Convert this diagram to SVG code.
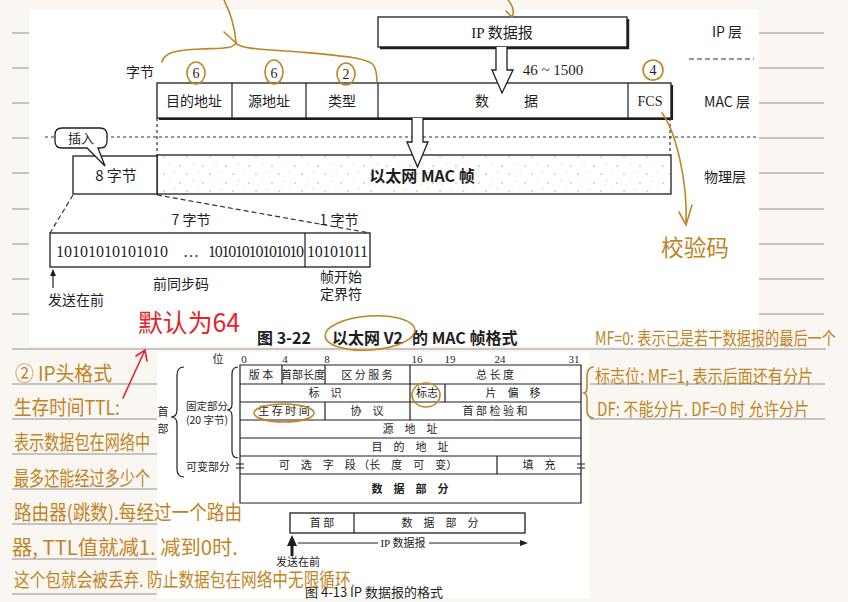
<svg xmlns="http://www.w3.org/2000/svg" width="848" height="602" viewBox="0 0 848 602">
<defs>
<style>
.rule{stroke:#b4b4b4;stroke-width:1.5}
.p{font-family:"Liberation Serif","Noto Sans CJK SC",serif;fill:#1e1e1e}
.ps{font-family:"Noto Sans CJK SC","Liberation Sans",sans-serif;fill:#1e1e1e}
.box{fill:#fff;stroke:#1e1e1e;stroke-width:1.3}
.ln{stroke:#1e1e1e;stroke-width:1.2;fill:none}
.dot{stroke:#333;stroke-width:1.2;stroke-dasharray:3,3;fill:none}
.dash{stroke:#333;stroke-width:1.2;stroke-dasharray:5,3;fill:none}
.hw{font-family:"Noto Sans CJK SC",sans-serif;fill:#c08424}
.ho{stroke:#c08424;stroke-width:1.6;fill:none;stroke-linecap:round}
.red{stroke:#e3242b;stroke-width:1.6;fill:none;stroke-linecap:round}
</style>
<pattern id="speck" width="23" height="17" patternUnits="userSpaceOnUse">
<circle cx="3" cy="4" r="0.7" fill="#999"/><circle cx="14" cy="2" r="0.5" fill="#aaa"/><circle cx="9" cy="11" r="0.6" fill="#bbb"/><circle cx="19" cy="13" r="0.7" fill="#999"/><circle cx="6" cy="15" r="0.4" fill="#aaa"/>
</pattern>
</defs>
<rect width="848" height="602" fill="#faf7f3"/>
<g id="rules">
<path class="rule" d="M12,33H29M12,68H29M12,103H29M12,138H29M12,173H29M12,209H29M12,244H29M12,279H29M12,314H29"/>
<path class="rule" d="M759,33H824M759,68H824M759,103H824M759,138H824M759,173H824M759,209H824M759,244H824M759,279H824M759,314H824"/>
<path class="rule" d="M12,349H826M12,384H157M12,419H157M12,454H157M12,489H157M12,524H157M12,559H157M12,594H157"/>
<path class="rule" d="M590,384H825M590,419H825"/>
</g>
<rect x="29" y="10" width="730" height="336" fill="#fff"/>
<rect x="157" y="352" width="432" height="246" fill="#fff"/>

<g id="ip-layer">
<rect class="box" x="378" y="17" width="249" height="30"/>
<path d="M628,19V48H380" stroke="#1e1e1e" stroke-width="2.4" fill="none"/>
<text class="p" x="502" y="37.5" font-size="15" text-anchor="middle">IP 数据报</text>
</g>
<g id="layer-labels">
<text class="ps" x="727" y="37" font-size="14" text-anchor="middle">IP 层</text>
<path class="dash" d="M689,59H754" stroke-dasharray="6,4"/>
<text class="ps" x="727" y="107" font-size="14" text-anchor="middle">MAC 层</text>
<text class="ps" x="725" y="182" font-size="14" text-anchor="middle">物理层</text>
</g>
<g id="mac-row">
<rect class="box" x="157" y="83" width="514" height="35"/>
<path class="ln" d="M232,83V118M306,83V118M378,83V118M628,83V118"/>
<path d="M672,85V119H159" stroke="#1e1e1e" stroke-width="2.2" fill="none"/>
<text class="ps" x="194" y="106" font-size="14" text-anchor="middle">目的地址</text>
<text class="ps" x="269" y="106" font-size="14" text-anchor="middle">源地址</text>
<text class="ps" x="342" y="106" font-size="14" text-anchor="middle">类型</text>
<text class="ps" x="482" y="106" font-size="14" text-anchor="middle">数</text>
<text class="ps" x="531" y="106" font-size="14" text-anchor="middle">据</text>
<text class="p" x="650" y="106" font-size="14" text-anchor="middle">FCS</text>
<text class="ps" x="140" y="77" font-size="14" text-anchor="middle">字节</text>
<text class="p" x="196" y="78" font-size="14" text-anchor="middle">6</text>
<text class="p" x="274" y="78" font-size="14" text-anchor="middle">6</text>
<text class="p" x="346" y="79" font-size="14" text-anchor="middle">2</text>
<text class="p" x="653" y="75" font-size="14" text-anchor="middle">4</text>
<text class="p" x="553" y="75" font-size="15" text-anchor="middle">46 ~ 1500</text>
</g>
<g id="phys-row">
<path class="dot" d="M45,137H759"/>
<path class="dot" d="M157,118V156M670,118V156"/>
<rect class="box" x="157" y="155" width="514" height="39"/>
<rect x="158" y="156" width="512" height="37" fill="url(#speck)"/>
<rect class="box" x="73" y="156" width="84" height="38"/>
<text class="ps" x="116" y="181" font-size="15" text-anchor="middle">8 字节</text>
<text class="ps" x="422" y="182" font-size="16" font-weight="bold" text-anchor="middle">以太网 MAC 帧</text>
</g>
<g id="callout">
<path d="M62,128H100Q107,128 107,135V141Q107,148 100,148H98L105,166L87,148H62Q55,148 55,141V135Q55,128 62,128Z" fill="#fff" stroke="#1e1e1e" stroke-width="1.3"/>
<text class="ps" x="81" y="143" font-size="13" text-anchor="middle">插入</text>
</g>
<g id="arrows">
<path d="M496,47V70H492L502,93L513,70H507V47" fill="#fff" stroke="#1e1e1e" stroke-width="1.3"/>
<path d="M412,118V142H407L417.5,167L428,142H423V118" fill="#fff" stroke="#1e1e1e" stroke-width="1.3"/>
</g>
<g id="preamble">
<path class="dash" d="M73,195L50,233M157,195L370,233"/>
<text class="ps" x="191" y="225" font-size="14" text-anchor="middle">7 字节</text>
<text class="ps" x="339" y="225" font-size="14" text-anchor="middle">1 字节</text>
<rect class="box" x="50" y="233" width="320" height="34"/>
<path class="ln" d="M305,233V267"/>
<text class="p" x="56" y="257" font-size="16" textLength="112">10101010101010</text>
<text class="p" x="183" y="257" font-size="16">…</text>
<text class="p" x="208" y="257" font-size="16" textLength="96">10101010101010</text>
<text class="p" x="307" y="257" font-size="16" textLength="61">10101011</text>
<path class="ln" d="M53,288V273"/>
<path d="M50,276L53,269L56,276Z" fill="#1e1e1e"/>
<text class="ps" x="76" y="305" font-size="14" text-anchor="middle">发送在前</text>
<text class="ps" x="181" y="289" font-size="14" text-anchor="middle">前同步码</text>
<text class="ps" x="341" y="282" font-size="14" text-anchor="middle">帧开始</text>
<text class="ps" x="341" y="299" font-size="14" text-anchor="middle">定界符</text>
</g>
<g id="caption-3-22" class="ps" font-size="16" font-weight="bold">
<text x="257" y="344">图 3-22</text>
<text x="332" y="344">以太网 V2</text>
<text x="412" y="344">的 MAC 帧格式</text>
</g>

<g id="ip-header">
<text class="ps" x="218" y="363" font-size="11" text-anchor="middle">位</text>
<text class="p" x="244" y="363" font-size="11" text-anchor="middle">0</text>
<text class="p" x="285" y="363" font-size="11" text-anchor="middle">4</text>
<text class="p" x="327" y="363" font-size="11" text-anchor="middle">8</text>
<text class="p" x="417" y="363" font-size="11" text-anchor="middle">16</text>
<text class="p" x="450" y="363" font-size="11" text-anchor="middle">19</text>
<text class="p" x="500" y="363" font-size="11" text-anchor="middle">24</text>
<text class="p" x="574" y="363" font-size="11" text-anchor="middle">31</text>
<path class="ln" d="M240,365H581V503H240ZM240,384H581M240,402H581M240,420H581M240,438H581M240,456H581M240,474H581"/>
<path class="ln" d="M282,365V384M325,365V384M410,365V384M410,384V402M445,384V402M325,402V420M410,402V420M497,456V474"/>
<path class="ln" d="M236,464H244M236,468H244M577,464H585M577,468H585"/>
<g class="ps" font-size="11" text-anchor="middle">
<text x="261" y="379">版 本</text>
<text x="303" y="379">首部长度</text>
<text x="367" y="379">区 分 服 务</text>
<text x="495" y="379">总 长 度</text>
<text x="325" y="397">标　识</text>
<text x="427" y="397">标志</text>
<text x="513" y="397">片　偏　移</text>
<text x="284" y="415">生 存 时 间</text>
<text x="367" y="415">协　议</text>
<text x="495" y="415">首 部 检 验 和</text>
<text x="410" y="433">源　地　址</text>
<text x="410" y="451">目　的　地　址</text>
<text x="368" y="469">可　选　字　段 （长　度　可　变）</text>
<text x="539" y="469">填　充</text>
<text x="410" y="493" font-weight="bold">数　据　部　分</text>
<text x="207" y="410" font-size="10.5">固定部分</text>
<text x="207" y="424" font-size="10.5">(20 字节)</text>
<text x="208" y="471">可变部分</text>
<text x="163" y="416">首</text>
<text x="163" y="433">部</text>
</g>
<path class="ln" d="M238,367Q232,367 232,374V404Q232,410 227,410Q232,410 232,416V451Q232,458 238,458"/>
<path class="ln" d="M184,367Q177,367 177,375V410Q177,417 171,417Q177,417 177,424V469Q177,477 184,477"/>
</g>
<g id="ip-datagram">
<rect class="box" x="290" y="513" width="235" height="20"/>
<path class="ln" d="M354,513V533"/>
<text class="ps" x="322" y="527" font-size="11" text-anchor="middle">首 部</text>
<text class="ps" x="440" y="527" font-size="11" text-anchor="middle">数　据　部　分</text>
<path d="M292,556V544" stroke="#1e1e1e" stroke-width="3"/>
<path d="M287,546L292,535L297,546Z" fill="#1e1e1e"/>
<path class="ln" d="M298,543H378M429,543H524"/>
<path d="M520,540L528,543L520,546Z" fill="#1e1e1e"/>
<text class="p" x="403" y="547" font-size="11" text-anchor="middle">IP 数据报</text>
<text class="ps" x="298" y="566" font-size="11" text-anchor="middle">发送在前</text>
<text class="ps" x="374" y="597" font-size="13" text-anchor="middle">图 4-13   IP 数据报的格式</text>
</g>

<g id="annotations">
<path class="ho" d="M162,62C164,53 175,50 200,49C222,48 233,49 236,43C240,49 262,49 300,52C345,56 370,58 374,66C377,72 377,78 377,82"/>
<path class="ho" d="M224,0C230,12 235,28 236,43M224,32L236,43"/>
<path class="ho" d="M508,0C513,6 515,11 512,17M506,11L512,17"/>
<ellipse class="ho" cx="196" cy="73" rx="9" ry="11"/>
<ellipse class="ho" cx="274" cy="72" rx="9" ry="12"/>
<ellipse class="ho" cx="346" cy="74" rx="9" ry="11"/>
<ellipse class="ho" cx="653" cy="70" rx="10" ry="10"/>
<path class="ho" d="M662,113C675,130 688,180 686,224M679,212L686,225L692,205"/>
<text class="hw" x="661" y="256" font-size="23" textLength="68" lengthAdjust="spacingAndGlyphs">校验码</text>
<ellipse class="ho" cx="370" cy="333" rx="45" ry="17" transform="rotate(-4 370 333)"/>
<ellipse class="ho" cx="284" cy="413" rx="30" ry="9"/>
<ellipse class="ho" cx="426" cy="395" rx="14" ry="12"/>
<text x="138" y="332" font-family="Noto Sans CJK SC,sans-serif" font-size="25" fill="#e3242b" textLength="102" lengthAdjust="spacingAndGlyphs">默认为64</text>
<path class="red" d="M123,398L145,350M136,356L145,350L147,361"/>
<g class="hw" font-size="20">
<text x="15" y="381" textLength="97" lengthAdjust="spacingAndGlyphs">② IP头格式</text>
<text x="14" y="415" textLength="106" lengthAdjust="spacingAndGlyphs">生存时间TTL:</text>
<text x="14" y="450" textLength="136" lengthAdjust="spacingAndGlyphs">表示数据包在网络中</text>
<text x="14" y="486" textLength="136" lengthAdjust="spacingAndGlyphs">最多还能经过多少个</text>
<text x="14" y="520" textLength="228" lengthAdjust="spacingAndGlyphs">路由器(跳数).每经过一个路由</text>
<text x="12" y="555" textLength="226" lengthAdjust="spacingAndGlyphs">器, TTL值就减1. 减到0时.</text>
<text x="14" y="587" font-size="19" textLength="341" lengthAdjust="spacingAndGlyphs">这个包就会被丢弃. 防止数据包在网络中无限循环.</text>
</g>
<g class="hw" font-size="18">
<text x="595" y="345" textLength="241" lengthAdjust="spacingAndGlyphs">MF=0: 表示已是若干数据报的最后一个</text>
<text x="595" y="383" textLength="218" lengthAdjust="spacingAndGlyphs">标志位: MF=1, 表示后面还有分片</text>
<text x="597" y="416" textLength="212" lengthAdjust="spacingAndGlyphs">DF: 不能分片. DF=0 时 允许分片</text>
</g>
<path class="ho" d="M593,367Q587,368 587,376V388Q587,392 584,393Q587,394 587,398V411Q587,417 593,418"/>
</g>
</svg>
